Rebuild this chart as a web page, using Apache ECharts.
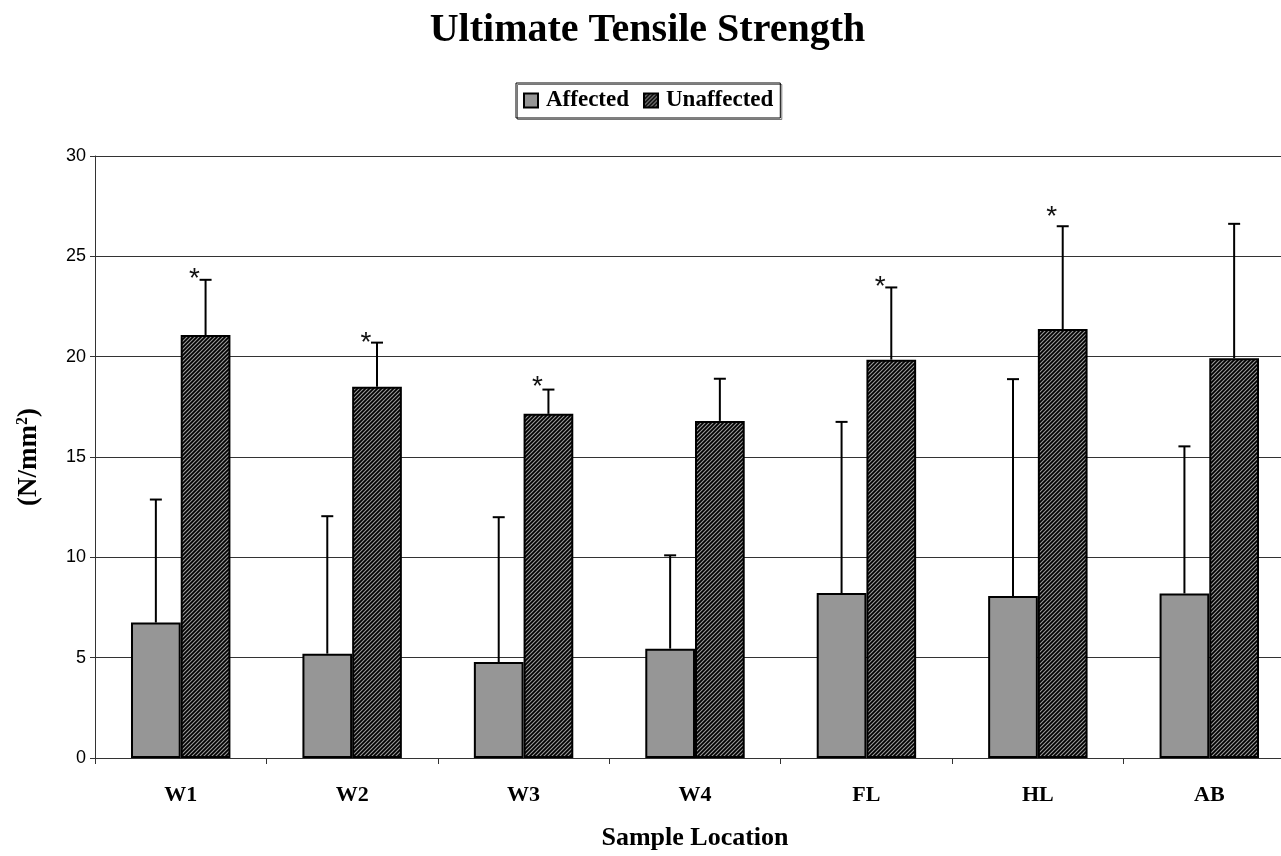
<!DOCTYPE html>
<html>
<head>
<meta charset="utf-8">
<script src="https://cdn.jsdelivr.net/npm/echarts@6/dist/echarts.min.js"></script>
<style>
html,body{margin:0;padding:0;background:#fff;overflow:hidden;width:1281px;height:856px;}
#chart{width:1295px;height:856px;}
</style>
</head>
<body>
<div id="chart"></div>
<script>
// ---- data ----
const categories = ['W1', 'W2', 'W3', 'W4', 'FL', 'HL', 'AB'];
const affected = [6.75, 5.2, 4.78, 5.45, 8.22, 8.07, 8.2];
const affectedErr = [6.13, 6.85, 7.22, 4.65, 8.53, 10.81, 7.33];
const unaffected = [21.08, 18.5, 17.15, 16.8, 19.85, 21.38, 19.92];
const unaffectedErr = [2.75, 2.2, 1.21, 2.1, 3.6, 5.12, 6.7];
const significant = [true, true, true, false, true, true, false];
const asteriskLevel = [24.2, 21.0, 18.8, null, 23.8, 27.3, null];
const yTicks = [0, 5, 10, 15, 20, 25, 30];

// ---- hatch pattern ----
function makeHatch() {
  const c = document.createElement('canvas');
  c.width = 4; c.height = 4;
  const g = c.getContext('2d');
  g.fillStyle = '#000';
  g.fillRect(0, 0, 4, 4);
  g.strokeStyle = '#9a9a9a';
  g.lineWidth = 1.1;
  g.beginPath();
  g.moveTo(-1, 5); g.lineTo(5, -1);
  g.moveTo(-1, 1); g.lineTo(1, -1);
  g.moveTo(3, 5); g.lineTo(5, 3);
  g.stroke();
  return c;
}
const hatch = { image: makeHatch(), repeat: 'repeat' };

const CAT_GAP = 0.42;
function errRender(side) {
  return function (params, api) {
    const i = api.value(0);
    const mean = api.value(1);
    const top = api.value(2);
    const band = api.size([1, 0])[0];
    const bw = band * (1 - CAT_GAP) / 2;
    const p0 = api.coord([i, mean]);
    const p1 = api.coord([i, top]);
    const x = p0[0] + side * bw / 2;
    const children = [
      { type: 'line', shape: { x1: x, y1: p0[1], x2: x, y2: p1[1] }, style: { stroke: '#000', lineWidth: 2 } },
      { type: 'line', shape: { x1: x - 6, y1: p1[1], x2: x + 6, y2: p1[1] }, style: { stroke: '#000', lineWidth: 2 } }
    ];
    const lvl = api.value(3);
    if (side > 0 && significant[i] && lvl != null && !isNaN(lvl)) {
      const pa = api.coord([i, lvl]);
      children.push({
        type: 'text',
        style: { x: x - 11, y: pa[1] + 7, text: '*', fill: '#111', font: '28px "Liberation Sans"', align: 'center', verticalAlign: 'middle' }
      });
    }
    return { type: 'group', children: children };
  };
}

const affErrData = categories.map((c, i) => [i, affected[i], affected[i] + affectedErr[i], null]);
const unaffErrData = categories.map((c, i) => [i, unaffected[i], unaffected[i] + unaffectedErr[i], asteriskLevel[i]]);

const serif = '"Liberation Serif", "Times New Roman", serif';
const chart = echarts.init(document.getElementById('chart'));
chart.setOption({
  animation: false,
  backgroundColor: '#fff',
  title: {
    text: 'Ultimate Tensile Strength',
    left: 'center',
    top: 6,
    textStyle: { fontFamily: serif, fontWeight: 'bold', fontSize: 40, color: '#000' }
  },
  legend: {
    data: ['Affected', 'Unaffected'],
    left: 516,
    top: 83,
    padding: [6, 7, 6, 7],
    itemWidth: 14,
    itemHeight: 14,
    itemGap: 14,
    icon: 'rect',
    borderColor: '#000',
    borderWidth: 1,
    shadowColor: '#777',
    shadowOffsetX: 1.5,
    shadowOffsetY: 1.5,
    shadowBlur: 0,
    textStyle: { fontFamily: serif, fontWeight: 'bold', fontSize: 23, color: '#000', padding: [0, 0, 0, 3] }
  },
  grid: { left: 95, top: 156, width: 1200, height: 604, containLabel: false },
  xAxis: {
    type: 'category',
    data: categories,
    boundaryGap: true,
    name: 'Sample Location',
    nameLocation: 'middle',
    nameGap: 67,
    nameTextStyle: { fontFamily: serif, fontWeight: 'bold', fontSize: 26, color: '#000', verticalAlign: 'top' },
    axisLine: { lineStyle: { color: '#333', width: 1 } },
    axisTick: { show: true, alignWithLabel: false, length: 6, lineStyle: { color: '#333' } },
    axisLabel: { fontFamily: serif, fontWeight: 'bold', fontSize: 22, color: '#000', margin: 26 }
  },
  yAxis: {
    type: 'value',
    min: yTicks[0],
    max: yTicks[yTicks.length - 1],
    interval: 5,
    name: '(N/mm{sup|2})',
    nameLocation: 'middle',
    nameGap: 52,
    nameRotate: 90,
    nameTextStyle: {
      fontFamily: serif, fontWeight: 'bold', fontSize: 27, color: '#000',
      rich: { sup: { fontFamily: serif, fontWeight: 'bold', fontSize: 16, color: '#000', verticalAlign: 'top', padding: [0, 0, 12, 0] } }
    },
    axisLine: { show: true, lineStyle: { color: '#333', width: 1 } },
    axisTick: { show: true, length: 5, lineStyle: { color: '#333' } },
    axisLabel: { fontFamily: '"Liberation Sans", Arial, sans-serif', fontSize: 18, color: '#000', margin: 9 },
    splitLine: { show: true, lineStyle: { color: '#333', width: 1 } }
  },
  series: [
    {
      name: 'Affected',
      type: 'bar',
      data: affected,
      barGap: '0%',
      barCategoryGap: (CAT_GAP * 100) + '%',
      itemStyle: { color: '#969696', borderColor: '#000', borderWidth: 2 },
      z: 2
    },
    {
      name: 'Unaffected',
      type: 'bar',
      data: unaffected,
      barGap: '0%',
      barCategoryGap: (CAT_GAP * 100) + '%',
      itemStyle: { color: hatch, borderColor: '#000', borderWidth: 2 },
      z: 2
    },
    {
      type: 'custom',
      renderItem: errRender(-1),
      data: affErrData,
      encode: { x: 0, y: [1, 2] },
      z: 5,
      silent: true
    },
    {
      type: 'custom',
      renderItem: errRender(1),
      data: unaffErrData,
      encode: { x: 0, y: [1, 2] },
      z: 5,
      silent: true
    }
  ]
});
</script>
</body>
</html>
